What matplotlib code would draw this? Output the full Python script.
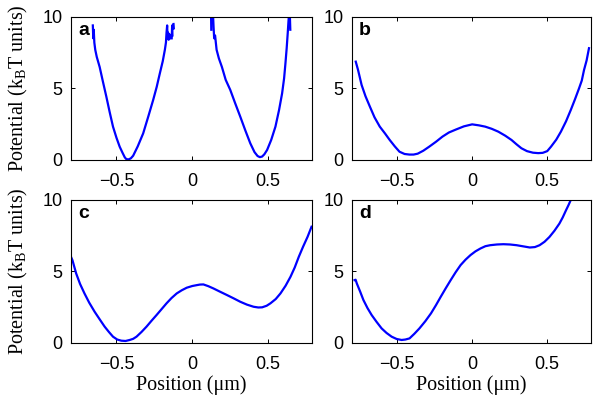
import matplotlib
matplotlib.use("Agg")
import matplotlib.pyplot as plt
import numpy as np

nan = np.nan

# panel a: two separate wells (noisy near the top), NaN breaks the line
a_x = [-0.656, -0.653, -0.650, -0.646, -0.640, -0.630, -0.611, -0.590, -0.567, -0.545, -0.523,
       -0.500, -0.479, -0.460, -0.445, -0.435, -0.420, -0.405, -0.390, -0.360, -0.324, -0.290,
       -0.258, -0.235, -0.214, -0.195, -0.181, -0.174, -0.170, -0.166, -0.163, -0.160, -0.156,
       -0.152, -0.148, nan, -0.136, -0.133, -0.131, nan, -0.124, -0.122,
       nan, 0.123, 0.125, nan, 0.135, 0.140, 0.144, 0.150, 0.160, 0.175, 0.195, 0.220, 0.250,
       0.283, 0.316, 0.350, 0.382, 0.410, 0.430, 0.445, 0.460, 0.475, 0.493, 0.520, 0.548,
       0.572, 0.592, 0.605, 0.614, 0.622, 0.629, 0.634, 0.640, nan, 0.642, 0.646]
a_y = [9.4, 8.5, 9.1, 8.2, 7.7, 7.2, 6.5, 5.5, 4.43, 3.35, 2.33,
       1.55, 0.93, 0.50, 0.18, 0.06, 0.04, 0.12, 0.30, 0.95, 1.86, 3.05,
       4.20, 5.10, 6.06, 6.90, 7.70, 8.20, 8.90, 9.40, 8.50, 8.90, 8.40,
       8.80, 8.50, nan, 8.50, 9.40, 8.70, nan, 9.50, 9.20,
       nan, 10.5, 9.1, nan, 10.5, 9.3, 8.5, 8.7, 7.7, 7.1, 6.5, 5.6, 4.9,
       3.95, 3.03, 2.05, 1.17, 0.55, 0.28, 0.20, 0.24, 0.40, 0.70, 1.40, 2.33,
       3.50, 4.66, 5.70, 6.76, 7.80, 8.86, 9.70, 10.5, nan, 10.5, 9.1]

# panel b: symmetric double well
b_x = [-0.775, -0.760, -0.736, -0.710, -0.681, -0.650, -0.615, -0.580, -0.549, -0.515, -0.484,
       -0.450, -0.418, -0.390, -0.363, -0.325, -0.286, -0.240, -0.198, -0.155, -0.110, -0.055,
       0.000, 0.045, 0.087, 0.130, 0.174, 0.220, 0.262, 0.295, 0.328, 0.365, 0.405, 0.440,
       0.470, 0.500, 0.525, 0.560, 0.591, 0.625, 0.657, 0.685, 0.712, 0.730, 0.745, 0.762, 0.778]
b_y = [6.87, 6.30, 5.24, 4.45, 3.73, 2.98, 2.33, 1.85, 1.40, 0.95, 0.58,
       0.42, 0.38, 0.38, 0.44, 0.65, 0.93, 1.28, 1.63, 1.92, 2.12, 2.35,
       2.49, 2.42, 2.33, 2.18, 1.98, 1.70, 1.40, 1.10, 0.82, 0.62, 0.51, 0.48,
       0.50, 0.62, 0.93, 1.42, 1.98, 2.70, 3.50, 4.25, 5.01, 5.55, 6.29, 6.95, 7.81]

# panel c: asymmetric double well
c_x = [-0.800, -0.790, -0.766, -0.740, -0.711, -0.680, -0.644, -0.610, -0.578, -0.550, -0.523,
       -0.495, -0.468, -0.440, -0.413, -0.390, -0.368, -0.335, -0.302, -0.270, -0.236, -0.203,
       -0.170, -0.137, -0.103, -0.070, -0.037, 0.000, 0.029, 0.050, 0.073, 0.105, 0.139, 0.185,
       0.228, 0.272, 0.316, 0.360, 0.404, 0.435, 0.460, 0.490, 0.515, 0.550, 0.581, 0.615,
       0.647, 0.675, 0.702, 0.730, 0.760, 0.786]
c_y = [6.0, 5.75, 4.84, 4.10, 3.44, 2.80, 2.16, 1.62, 1.12, 0.75, 0.42,
       0.22, 0.14, 0.12, 0.19, 0.27, 0.42, 0.75, 1.12, 1.52, 1.93, 2.34,
       2.75, 3.12, 3.44, 3.66, 3.84, 3.96, 4.02, 4.06, 4.07, 3.95, 3.79, 3.55,
       3.33, 3.10, 2.86, 2.66, 2.51, 2.46, 2.47, 2.58, 2.75, 3.05, 3.44, 3.98,
       4.60, 5.25, 6.00, 6.70, 7.40, 8.10]

# panel d: tilted well with a shoulder
d_x = [-0.783, -0.776, -0.768, -0.745, -0.724, -0.697, -0.669, -0.636, -0.603, -0.570, -0.536,
       -0.503, -0.470, -0.445, -0.417, -0.385, -0.351, -0.312, -0.274, -0.241, -0.209, -0.176,
       -0.143, -0.110, -0.077, -0.044, -0.011, 0.022, 0.055, 0.088, 0.120, 0.165, 0.208, 0.252,
       0.296, 0.340, 0.384, 0.418, 0.449, 0.482, 0.515, 0.548, 0.581, 0.603, 0.625, 0.642,
       0.658, 0.680]
d_y = [4.37, 4.40, 4.14, 3.55, 2.98, 2.42, 1.93, 1.45, 1.00, 0.68, 0.42,
       0.26, 0.19, 0.22, 0.30, 0.62, 1.00, 1.50, 2.05, 2.62, 3.21, 3.80,
       4.37, 4.92, 5.42, 5.80, 6.12, 6.38, 6.58, 6.74, 6.81, 6.86, 6.88, 6.86,
       6.81, 6.73, 6.65, 6.68, 6.81, 7.05, 7.39, 7.82, 8.32, 8.75, 9.25, 9.62,
       10.0, 10.6]

panel_x = [a_x, b_x, c_x, d_x]
panel_y = [a_y, b_y, c_y, d_y]
letters = ["a", "b", "c", "d"]
xticks = [-0.5, 0, 0.5]
yticks = [0, 5, 10]

fig = plt.figure(figsize=(5.94, 4.01), dpi=100)
boxes = [[0.1195, 0.601, 0.406, 0.357],
         [0.5926, 0.601, 0.402, 0.357],
         [0.1195, 0.1454, 0.406, 0.357],
         [0.5926, 0.1454, 0.402, 0.357]]

ylab = "Potential (k$_\\mathregular{B}$T units)"

for i in range(4):
    ax = fig.add_axes(boxes[i])
    ax.plot(panel_x[i], panel_y[i], color="#0000ff", lw=1.6, solid_joinstyle="round")
    ax.set_xlim(-0.8, 0.79)
    ax.set_ylim(0, 10)
    ax.set_xticks(xticks)
    ax.set_xticklabels(["\u22120.5", "0", "0.5"])
    ax.set_yticks(yticks)
    ax.tick_params(direction="in", top=True, right=True, length=3, width=0.7,
                   labelsize=13, pad=6)
    ax.tick_params(axis="x", pad=9.5)
    for lab in ax.get_xticklabels() + ax.get_yticklabels():
        lab.set_family("Liberation Sans")
    for s in ax.spines.values():
        s.set_linewidth(0.8)
    ax.text(0.03, 0.905, letters[i], transform=ax.transAxes, fontsize=14,
            fontweight="bold", family="Liberation Sans", va="center", ha="left")
    if i in (0, 2):
        ax.set_ylabel(ylab, family="Liberation Serif", fontsize=14.5)
        ax.yaxis.set_label_coords(-0.17, 0.5)
    if i in (2, 3):
        ax.set_xlabel("Position (\u03bcm)", family="Liberation Serif", fontsize=14.5,
                      labelpad=2)

fig.savefig("out.png", dpi=100)
